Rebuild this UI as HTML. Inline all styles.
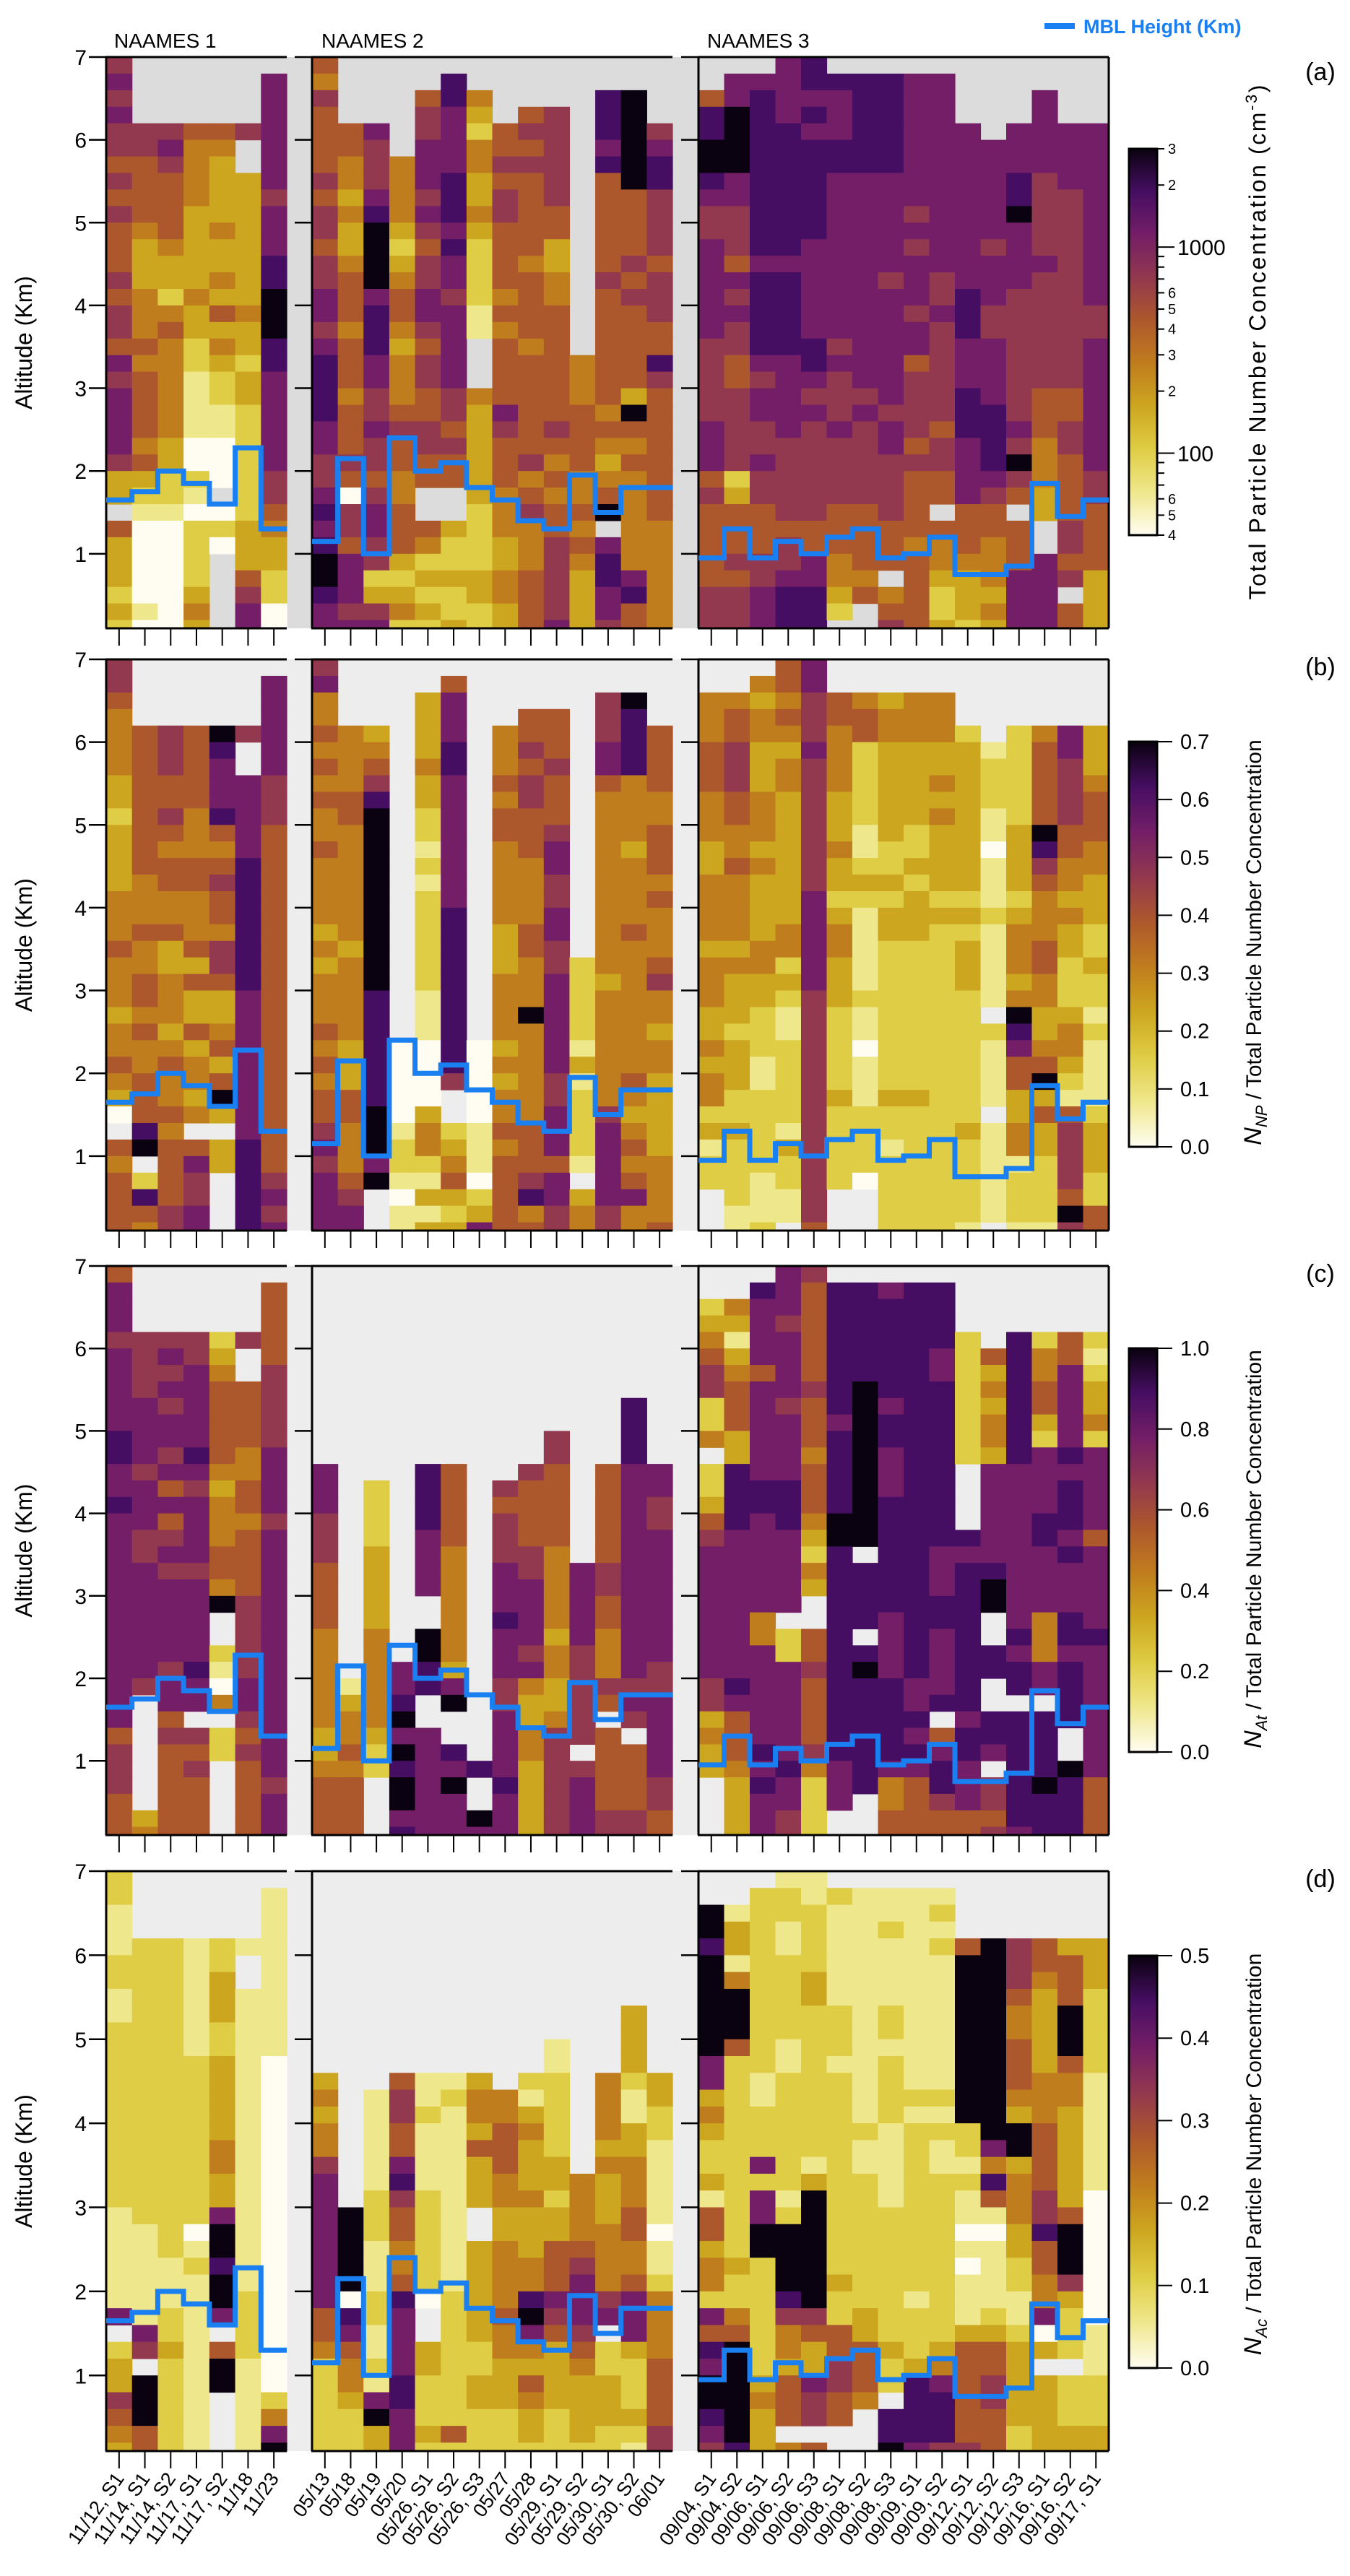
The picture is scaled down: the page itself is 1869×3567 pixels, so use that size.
<!DOCTYPE html>
<html><head><meta charset="utf-8"><title>NAAMES profiles</title>
<style>
html,body{margin:0;padding:0;background:#fff;}
svg{display:block;font-family:"Liberation Sans",sans-serif;}
</style></head>
<body>
<svg id="chart" xmlns="http://www.w3.org/2000/svg" width="1869" height="3567" viewBox="0 0 1869 3567"></svg>
<script>
// ---------- data ----------
const dates1 = ["11/12,  S1","11/14,  S1","11/14,  S2","11/17,  S1","11/17,  S2","11/18","11/23"];
const dates2 = ["05/13","05/18","05/19","05/20","05/26,  S1","05/26,  S2","05/26,  S3","05/27","05/28","05/29,  S1","05/29,  S2","05/30,  S1","05/30,  S2","06/01"];
const dates3 = ["09/04,  S1","09/04,  S2","09/06,  S1","09/06,  S2","09/06,  S3","09/08,  S1","09/08,  S2","09/08,  S3","09/09,  S1","09/09,  S2","09/12,  S1","09/12,  S2","09/12,  S3","09/16,  S1","09/16,  S2","09/17,  S1"];
const mbl1 = [1.65,1.75,2.0,1.85,1.6,2.28,1.3];
const mbl2 = [1.15,2.15,1.0,2.4,2.0,2.1,1.8,1.65,1.4,1.3,1.95,1.5,1.8,1.8];
const mbl3 = [0.95,1.3,0.95,1.15,1.0,1.2,1.3,0.95,1.0,1.2,0.75,0.75,0.85,1.85,1.45,1.65];
const altTicks = [1,2,3,4,5,6,7];
// colour level codes per column, rows of 0.2 km from 7 km down ('.' = no data)
const totalN1 = ["67676 65656 55565 66576 77776 33.53 33232","....6 65555 43334 44545 55545 32100 00010","....6 76555 54332 45444 44433 22100 00000","....5 44443 33334 33221 11100 21022 22343","....5 43333 43343 53432 21100 0.020 .....","....6 ..333 33333 43323 32222 22233 35677",".7777 77767 77889 99887 77777 66543 32200"];
const totalN2 = ["54655 55656 65667 76788 88776 67878 99877","....5 54434 33455 54555 45556 50665 77767","....7 66678 99997 88877 66766 56776 62367","..... .4444 32345 54344 45655 44555 32342","..566 77767 65667 76566 55665 5..54 23232",".8877 77888 78776 77777 66565 5..32 23223","..432 44334 32222 11... 43333 33222 23322","....5 56566 55554 54555 57655 54443 34433","...56 56555 55455 55455 55556 45644 45555","...66 66665 53344 55555 55654 54556 66667","..... ..... ..... ...44 45555 44545 43333","..888 78555 55565 55555 54543 459.7 88776","..999 99955 55656 55555 39545 44444 47855","....6 78866 66566 65586 55555 55544 44444"];
const totalN3 = ["..588 99876 67777 77666 66777 56555 55666",".7799 99776 66576 76655 66666 23555 65666",".7888 88888 88788 88876 77667 66555 66777","77778 88888 88788 88877 77766 66656 67888","88787 88888 87777 77887 67666 66655 77888",".8777 88777 77777 77676 66766 66555 4432.",".8888 88777 77777 77777 67666 66555 545..",".8888 88777 77767 77777 76776 66655 5.456",".7777 77776 76777 67756 66656 55554 55555",".7777 77777 77766 76666 66566 55.54 43223","....7 77777 77778 88777 88877 77555 43332","..... 77777 76777 66777 78888 76554 44343","....7 77889 77776 66666 66769 65.55 57777","..777 77666 66766 66666 55544 433.. 77777","....7 77766 66666 66666 55665 55566 56.55","....7 77777 77777 66777 77777 66555 53333"];
const ratioNP1 = ["66544 44332 33334 44544 43445 430.5 45555","....5 55555 55544 45445 54544 55589 .2854","....6 66556 54554 45334 44345 44545 55566","....5 55554 44554 44535 33534 434.5 76677","....9 87778 54565 54665 33453 593.3 3....","....6 ..777 77888 88888 77777 77778 88888",".7777 77666 55555 55555 55555 55555 56767"];
const ratioNP2 = ["67445 45454 45444 43434 44545 45567 67777","....4 44455 44444 44344 44433 35544 45677","....3 45689 99999 99999 88888 88999 79...","..... ..... ..... ..... ...00 00012 21011","..333 34332 21212 22222 11100 00344 21313",".5777 88777 77777 88888 88888 6..23 45323","..... ..... ..... ..... ...00 00011 10237","....4 44545 54444 43334 44434 34454 55555","...55 65665 55444 45544 49444 44455 56845","...55 56555 67766 77667 77777 66777 57766","..... ..... ..... ...22 22213 12222 1.344","..666 77544 44444 44443 44444 44677 77766","..988 88444 43444 45444 44444 54345 45744","....5 55544 55545 44456 44344 33333 44445"];
const ratioNP3 = ["..444 55544 43344 44344 43343 44231 22...","..455 66655 44544 44343 33233 32232 22211",".4344 33344 43433 33443 32221 12222 21112","55454 34433 33333 34423 21122 22213 2211.","77666 76666 66667 77777 66666 66666 66665","..554 44433 34332 34433 32222 23222 22...","..455 22222 11232 11111 21101 11222 20...","..344 33333 32232 33222 22222 23221 22222","..444 33333 22323 33222 22222 23222 22222","..444 33434 33332 32222 22222 22222 22222","....2 33333 33332 32333 22222 22232 22221","..... 12221 10111 21111 1.211 11.11 1111.","....2 22222 33332 34443 49875 53344 12221","....4 55555 98654 44554 43345 93533 22221","....7 76666 55443 43322 23443 21566 66596","....3 33455 54433 32232 21211 11233 32255"];
const ratioAt1 = ["57776 77777 88778 77777 77777 77756 66555","....6 66677 77677 76677 77777 6.... ...34","....6 76767 76757 56767 77776 77565 55555","....6 67777 78767 77767 77778 77.65 65555","....2 34555 55434 44554 9..21 04.22 .....","....6 ..555 54455 45555 66666 77656 55555",".5555 56666 67777 67777 77777 77777 76777"];
const ratioAt2 = ["..... ..... ..777 66655 55444 44433 45555","..... ..... ..... ..... ..... 13445 45555","..... ..... ...22 22333 33444 44432 2....","..... ..... ..... ..... ....7 78979 89978","..... ..... ..888 87777 ..998 8..77 77777","..... ..... ..555 55444 44443 79..8 79777","..... ..... ..... ..... ..... ..... 8..97","..... ..... ...65 66677 78777 66777 78777","..... ..... ..655 55667 77767 43344 33333","..... ..... 66555 55444 44344 33466 66666","..... ..... ..... ...77 77766 6666. 67777","..... ..... ..555 55566 55444 65.55 55566","..... ...88 88777 77777 77777 676.5 55566","..... ..... ..776 67777 77776 67777 76655"];
const ratioAt3 = ["..234 56622 4.223 56777 77777 66343 3....","..431 34555 33888 87777 77777 87555 43333",".8777 75777 77788 77777 74477 77778 78777","77767 77767 77788 87777 7.227 77777 87766","65555 55655 54555 43243 ..556 55556 42222",".8888 88887 88888 99888 88888 88888 777..",".8888 88999 99999 99.88 88.89 88888 88...",".7888 88878 87778 88888 87777 88888 74455",".8888 88888 88888 88888 88888 77878 75555",".8888 77888 88888 88777 88777 78.57 88655","....2 22222 22... .8788 88888 88788 77755","..... 53434 43777 77789 9..88 ..887 .6656","....8 88888 88777 77777 77878 8.888 88887","....2 44553 27777 88777 74447 7.888 89888","....5 57777 78788 87877 78878 888.. 98888","....2 12334 27777 75777 77877 77777 75555"];
const ratioAc1 = ["22111 22112 22222 22222 11111 17.23 36543","....2 22222 22222 22222 21111 1176. 99955","....2 22222 22222 22222 22211 12232 22222","....1 11111 12222 22222 20121 11111 11111","....2 23332 23333 34433 79989 97.59 9....","....1 ..111 11111 11111 11111 22221 11111",".1111 11111 10000 00000 00000 00000 02479"];
const ratioAc2 = ["..... ..... ..343 44677 77777 75542 22222","..... ..... ..... ..... 99999 08754 43222","..... ..... ...11 11112 22111 22112 17933","..... ..... ..566 55786 55445 87777 88777","..... ..... ..112 11112 22222 0..33 22232","..... ..... ..121 11111 11111 22222 22252","..... ..... ..344 35333 ..333 33322 33222","..... ..... ...44 55544 33444 45443 33222","..... ..... ..213 43334 33344 89743 54332","..... ..... 11222 22332 33555 76533 33222","..... ..... ..... ...44 44567 77654 33332","..... ..... ..444 43433 34444 67.22 33322","..... ...33 33211 33444 55445 77732 22321","..... ..... ..332 21111 10112 44445 55566"];
const ratioAc3 = ["..998 99999 97734 32231 55344 27587 99876","..133 14999 52222 22222 22232 24599 99998",".2222 22222 22112 22727 79922 22222 34333","12211 22222 11222 22221 29999 86443 555.4","11222 23322 22222 22139 99999 96533 766.5",".2111 11122 21222 22222 22223 22556 655..",".1111 11111 11111 21122 22222 23355 54...",".1121 11122 12222 11111 22222 22232 2.889",".1111 11111 11121 22222 22222 12223 88887",".1212 11111 11121 21122 22222 22234 78886","....5 99999 99999 22121 10101 11355 55556","....9 99999 99999 97485 10111 12355 66555","....6 66544 55543 99344 43322 11233 33322","....5 54333 33444 55556 68554 4703. 33333","....3 55599 95443 33333 59996 3222. 22233","....3 33222 22111 11110 00000 00111 22233"];
const cbTicksB = ["0.0","0.1","0.2","0.3","0.4","0.5","0.6","0.7"];
const cbTicksC = ["0.0","0.2","0.4","0.6","0.8","1.0"];
const cbTicksD = ["0.0","0.1","0.2","0.3","0.4","0.5"];
const cbTicksA = [40,50,60,70,80,90,100,200,300,400,500,600,700,800,900,1000,2000,3000];

// ---------- style ----------
const palette = ["#fffdf2","#efe78c","#dfcd45","#cda61f","#c07d1e","#ad582c","#92384f","#731e67","#460e62","#0a0210"];
const NS = "http://www.w3.org/2000/svg";
const svg = document.getElementById('chart');
function el(tag, attrs, parent){const e=document.createElementNS(NS,tag);for(const k in attrs)e.setAttribute(k,attrs[k]);(parent||svg).appendChild(e);return e;}

const subX = [[147,397],[432,931],[967,1535]];
const panels = [
 {top:79,h:791,bg:"#dcdcdc",data:[totalN1,totalN2,totalN3],letter:"(a)",cb:[206,741],key:"total"},
 {top:913,h:791,bg:"#ededed",data:[ratioNP1,ratioNP2,ratioNP3],letter:"(b)",cb:[1027,1588],key:"np"},
 {top:1753,h:788,bg:"#ededed",data:[ratioAt1,ratioAt2,ratioAt3],letter:"(c)",cb:[1867,2426],key:"at"},
 {top:2591,h:803,bg:"#ededed",data:[ratioAc1,ratioAc2,ratioAc3],letter:"(d)",cb:[2708,3279],key:"ac"}
];
const mbls=[mbl1,mbl2,mbl3];
const datesAll=[dates1,dates2,dates3];

// gradient
const defs = el('defs',{});
const grad = el('linearGradient',{id:'cmap',x1:0,y1:1,x2:0,y2:0},defs);
palette.forEach((c,i)=>el('stop',{offset:(i/9).toFixed(3),'stop-color':c},grad));

// header
[["NAAMES 1",158],["NAAMES 2",445],["NAAMES 3",979]].forEach((t,i)=>{
  const tx=el('text',{x:t[1],y:66,'font-size':28,fill:'#000'});tx.textContent=t[0];
  
  
});
const lg=el('g',{});


el('line',{x1:1446,y1:36,x2:1488,y2:36,stroke:'#1a7ff0','stroke-width':8},lg);
const lt=el('text',{x:1500,y:46,'font-size':27,'font-weight':'bold',fill:'#1a7ff0','xml:space':'preserve'},lg);
lt.textContent="MBL Height  (Km)";

panels.forEach((P,pi)=>{
  const g=el('g',{});
  
  
  const yS = a => P.top + (7-a)*P.h/6.9;
  const bottom = P.top+P.h;
  el('rect',{x:147,y:P.top,width:1535-147,height:P.h,fill:P.bg},g);
  subX.forEach((sx,si)=>{
    const cols=P.data[si];const n=cols.length;const w=(sx[1]-sx[0])/n;
    const xS = j => sx[0]+j*w;
    cols.forEach((colStr,j)=>{
      let s=colStr.replace(/ /g,'');
      for(let i=0;i<s.length;i++){
        const ch=s[i]; if(ch==='.')continue;
        const y0=yS(7-0.2*i), y1=Math.min(yS(7-0.2*(i+1)),bottom);
        if(y1<=y0)continue;
        const r=el('rect',{x:xS(j).toFixed(2),y:y0.toFixed(2),width:(w+0.6).toFixed(2),height:(y1-y0+0.6).toFixed(2),fill:palette[+ch]},g);
        
        
      }
    });
    // axes
    el('line',{x1:sx[0],y1:P.top,x2:sx[0],y2:bottom,stroke:'#000','stroke-width':3},g);
    el('line',{x1:sx[0]-1,y1:P.top,x2:sx[1],y2:P.top,stroke:'#000','stroke-width':3},g);
    el('line',{x1:sx[0]-1,y1:bottom,x2:sx[1],y2:bottom,stroke:'#000','stroke-width':3},g);
    if(si===2) el('line',{x1:sx[1],y1:P.top,x2:sx[1],y2:bottom,stroke:'#000','stroke-width':3},g);
    altTicks.forEach(a=>{
      el('line',{x1:sx[0]-24,y1:yS(a),x2:sx[0],y2:yS(a),stroke:'#000','stroke-width':2.5},g);
      if(si===0){const t=el('text',{x:120,y:yS(a)+11,'font-size':30,'text-anchor':'end'},g);t.textContent=a;
        
        }
    });
    for(let j=0;j<n;j++){
      const cx=xS(j)+w/2;
      el('line',{x1:cx,y1:bottom,x2:cx,y2:bottom+24,stroke:'#000','stroke-width':2},g);
      if(pi===3){
        const t=el('text',{transform:`translate(${cx+8},${bottom+38}) rotate(-55)`,'font-size':27,'text-anchor':'end','xml:space':'preserve'},g);
        t.textContent=datesAll[si][j];
        
        
      }
    }
    // MBL step line
    const m=mbls[si];let d='';
    m.forEach((v,j)=>{const y=yS(v);d+=(j===0?'M':'L')+xS(j).toFixed(1)+','+y.toFixed(1)+'L'+xS(j+1).toFixed(1)+','+y.toFixed(1);});
    const p=el('path',{d:d,fill:'none',stroke:'#1a7ff0','stroke-width':7,'stroke-linejoin':'miter'},g);
    
    
  });
  const yt=el('text',{transform:`translate(44,${P.top+P.h/2}) rotate(-90)`,'font-size':32,'text-anchor':'middle'},g);
  yt.textContent="Altitude (Km)";
  
  
  const lt2=el('text',{x:1828,y:P.top+(pi===0?32:22),'font-size':34,'text-anchor':'middle'},g);
  lt2.textContent=P.letter;
  
  
  // colorbar
  const cb=el('g',{},g);
  
  
  const [c0,c1]=P.cb;
  el('rect',{x:1563,y:c0,width:39,height:c1-c0,fill:'url(#cmap)',stroke:'#000','stroke-width':3},cb);
  if(pi===0){
    const lo=Math.log10(40),hi=Math.log10(3000);
    const cy=v=>c1-(Math.log10(v)-lo)/(hi-lo)*(c1-c0);
    cbTicksA.forEach(v=>{
      const major=(v===100||v===1000);
      el('line',{x1:1602,y1:cy(v),x2:1602+(major?24:10),y2:cy(v),stroke:'#000','stroke-width':2},cb);
      let lab=null,fs=20,x=1617;
      if(major){lab=String(v);fs=30;x=1630;}
      else{const lead=String(v)[0];if(['2','3','4','5','6'].includes(lead))lab=lead;}
      if(lab){const t=el('text',{x:x,y:cy(v)+(major?11:7),'font-size':fs},cb);t.textContent=lab;
        
        }
    });
    const tt=el('text',{transform:`translate(1752,${P.top+395}) rotate(-90)`,'font-size':32,'text-anchor':'middle',textLength:713},cb);
    tt.innerHTML='Total Particle Number Concentration (cm<tspan dy="-12" font-size="22">-3</tspan><tspan dy="12">)</tspan>';
    
    
  } else {
    const ticks=pi===1?cbTicksB:(pi===2?cbTicksC:cbTicksD);
    const maxV=parseFloat(ticks[ticks.length-1]);
    ticks.forEach(tk=>{
      const y=c1-parseFloat(tk)/maxV*(c1-c0);
      el('line',{x1:1602,y1:y,x2:1623,y2:y,stroke:'#000','stroke-width':2},cb);
      const t=el('text',{x:1634,y:y+10,'font-size':29},cb);t.textContent=tk;
      
      
    });
    const sub=pi===1?'NP':(pi===2?'At':'Ac');
    const tt=el('text',{transform:`translate(1746,${P.top+392}) rotate(-90)`,'font-size':30,'text-anchor':'middle'},cb);
    tt.innerHTML='<tspan font-style="italic" font-size="34">N</tspan><tspan font-style="italic" font-size="22" dy="8">'+sub+'</tspan><tspan dy="-8"> / Total Particle Number Concentration</tspan>';
    
    
  }
});
</script>
</body></html>
